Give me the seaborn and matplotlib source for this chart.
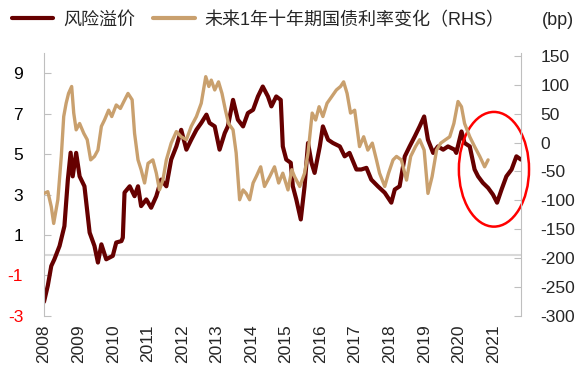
import numpy as np
import pandas as pd
import seaborn as sns
import matplotlib.pyplot as plt
from matplotlib.lines import Line2D
from matplotlib.patches import Ellipse

# risk premium (left axis)
rp_year = [2008.00, 2008.11, 2008.21, 2008.30, 2008.45, 2008.59, 2008.69, 2008.77, 2008.83, 2008.93,
           2009.03, 2009.17, 2009.32, 2009.46, 2009.56, 2009.66, 2009.80, 2009.99, 2010.09, 2010.24,
           2010.28, 2010.33, 2010.48, 2010.62, 2010.72, 2010.81, 2010.96, 2011.10, 2011.25, 2011.39,
           2011.54, 2011.68, 2011.83, 2011.97, 2012.12, 2012.26, 2012.41, 2012.55, 2012.70, 2012.79,
           2012.94, 2013.08, 2013.23, 2013.32, 2013.47, 2013.61, 2013.76, 2013.90, 2014.05, 2014.19,
           2014.33, 2014.48, 2014.58, 2014.72, 2014.85, 2014.91, 2015.01, 2015.14, 2015.20, 2015.30,
           2015.43, 2015.54, 2015.64, 2015.74, 2015.83, 2015.98, 2016.07, 2016.22, 2016.36, 2016.56,
           2016.70, 2016.84, 2017.04, 2017.18, 2017.33, 2017.47, 2017.66, 2017.86, 2018.05, 2018.15,
           2018.29, 2018.44, 2018.58, 2018.73, 2018.87, 2019.00, 2019.11, 2019.26, 2019.40, 2019.55,
           2019.69, 2019.88, 2019.93, 2020.08, 2020.17, 2020.32, 2020.46, 2020.56, 2020.70, 2020.85,
           2020.99, 2021.11, 2021.24, 2021.38, 2021.53, 2021.67, 2021.80]
rp_value = [-2.3, -1.5, -0.53, -0.2, 0.46, 1.44, 3.74, 5.07, 3.9, 5.06,
            3.9, 3.41, 1.12, 0.46, -0.36, 0.54, -0.2, -0.03, 0.63, 0.7,
            0.87, 3.1, 3.41, 2.92, 3.41, 2.43, 2.76, 2.35, 2.92, 3.74,
            3.41, 4.73, 5.38, 6.2, 5.22, 5.71, 6.2, 6.54, 6.95, 6.54,
            6.37, 5.22, 6.04, 6.37, 7.68, 6.7, 6.37, 7.03, 7.19, 7.85,
            8.34, 7.85, 7.36, 7.85, 7.68, 5.38, 4.73, 4.57, 3.41, 2.76,
            1.77, 3.41, 5.55, 4.57, 4.07, 5.38, 6.37, 5.71, 5.55, 5.38,
            4.89, 5.06, 4.24, 4.24, 4.32, 3.74, 3.41, 3.09, 2.6, 3.25,
            3.41, 4.89, 5.38, 5.88, 6.37, 6.86, 5.71, 5.06, 5.38, 5.22,
            5.38, 5.22, 5.06, 6.12, 5.55, 5.38, 4.24, 3.9, 3.58, 3.33,
            3.0, 2.6, 3.25, 3.9, 4.24, 4.89, 4.73]

# change of 10y government bond yield over next year, bp (right axis)
chg_year = [2008.00, 2008.11, 2008.21, 2008.28, 2008.40, 2008.50, 2008.57, 2008.64, 2008.71, 2008.80,
            2008.86, 2008.93, 2009.03, 2009.15, 2009.25, 2009.35, 2009.46, 2009.56, 2009.66, 2009.75,
            2009.87, 2009.96, 2010.09, 2010.21, 2010.31, 2010.43, 2010.55, 2010.62, 2010.72, 2010.81,
            2010.91, 2011.01, 2011.15, 2011.25, 2011.34, 2011.44, 2011.54, 2011.68, 2011.83, 2011.97,
            2012.12, 2012.26, 2012.41, 2012.55, 2012.68, 2012.77, 2012.84, 2012.94, 2013.05, 2013.15,
            2013.25, 2013.34, 2013.47, 2013.56, 2013.66, 2013.76, 2013.85, 2013.95, 2014.05, 2014.14,
            2014.27, 2014.38, 2014.53, 2014.67, 2014.79, 2014.91, 2015.06, 2015.17, 2015.25, 2015.40,
            2015.54, 2015.64, 2015.76, 2015.86, 2015.96, 2016.07, 2016.19, 2016.32, 2016.46, 2016.58,
            2016.67, 2016.77, 2016.87, 2016.99, 2017.13, 2017.25, 2017.37, 2017.50, 2017.62, 2017.71,
            2017.86, 2017.97, 2018.10, 2018.20, 2018.34, 2018.49, 2018.61, 2018.75, 2018.87, 2019.00,
            2019.11, 2019.23, 2019.36, 2019.48, 2019.62, 2019.74, 2019.86, 2019.98, 2020.08, 2020.17,
            2020.32, 2020.46, 2020.61, 2020.75, 2020.85]
chg_bp = [-88, -85, -111, -140, -99, -24, 45, 68, 85, 97,
          51, 22, 33, 16, 5, -30, -24, -13, 28, 39,
          56, 45, 65, 59, 71, 85, 74, 16, -30, -47,
          -70, -36, -30, -53, -82, -65, -30, -1, 19, 10,
          5, 28, 45, 68, 114, 97, 108, 91, 105, 85,
          56, 33, 22, -18, -99, -82, -88, -99, -70, -59,
          -42, -76, -59, -42, -70, -53, -82, -47, -59, -76,
          -53, -18, 51, 39, 62, 45, 68, 79, 91, 97,
          105, 85, 51, 56, -7, 10, -13, -1, -30, -53,
          -76, -53, -30, -24, -30, -65, -24, -7, 5, -13,
          -88, -59, -13, -1, 5, 10, 33, 71, 62, 33,
          10, -7, -24, -42, -30]

years = list(range(2008, 2022))
left_ticks = [-3, -1, 1, 3, 5, 7, 9]
right_ticks = list(range(-300, 151, 50))
labels = ['风险溢价', '未来1年十年期国债利率变化（RHS）']

dark = '#660000'
tan = '#C9A06E'
grey = '#BFBFBF'

sns.set_style('white')
plt.rcParams['font.family'] = ['Liberation Sans', 'Noto Sans CJK SC', 'DejaVu Sans']

fig = plt.figure(figsize=(5.83, 3.73), dpi=100)
ax = fig.add_axes([0.0755, 0.153, 0.818, 0.705])
ax2 = ax.twinx()

ax.axhline(0, color='#D9D9D9', lw=1.5, zorder=0)
sns.lineplot(x=rp_year, y=rp_value, ax=ax, color=dark, lw=3)
sns.lineplot(x=chg_year, y=chg_bp, ax=ax2, color=tan, lw=2.4)

ax.set_xlim(2008, 2021.8)
ax.set_ylim(-3, 10)
ax2.set_ylim(-300, 155)

ax.set_xticks(years)
ax.set_xticklabels([str(y) for y in years], rotation=90, fontsize=12.5)
ax.tick_params(axis='x', length=0, pad=6)

ax.set_yticks(left_ticks)
ax.set_yticklabels([str(t) for t in left_ticks], fontsize=12.5)
for lab, t in zip(ax.get_yticklabels(), left_ticks):
    lab.set_color('red' if t < 0 else 'black')
ax.tick_params(axis='y', direction='in', length=5, color=grey, pad=15)

ax2.set_yticks(right_ticks)
ax2.set_yticklabels([str(t) for t in right_ticks], fontsize=12.5)
ax2.tick_params(axis='y', direction='in', length=5, color=grey, pad=14)

for a in (ax, ax2):
    a.set_xlabel('')
    a.set_ylabel('')
    a.spines['top'].set_visible(False)
    a.spines['bottom'].set_visible(False)
ax.spines['right'].set_visible(False)
ax2.spines['left'].set_visible(False)
ax.spines['left'].set_color(grey)
ax2.spines['right'].set_color(grey)

# red circle around 2020-2021
ax2.add_patch(Ellipse((2021.02, 4.25), width=2.03, height=5.67, transform=ax.transData,
                      fill=False, edgecolor='red', lw=1.8, clip_on=False))

handles = [Line2D([], [], color=dark, lw=3), Line2D([], [], color=tan, lw=3)]
fig.legend(handles, labels, loc='center left', bbox_to_anchor=(0.02, 0.946), ncol=2,
           frameon=False, fontsize=13, handlelength=2.3, handletextpad=0.55,
           columnspacing=1.0, borderaxespad=0, borderpad=0)
fig.text(0.957, 0.946, '(bp)', ha='center', va='center', fontsize=13)

fig.savefig('out.png', dpi=100)
